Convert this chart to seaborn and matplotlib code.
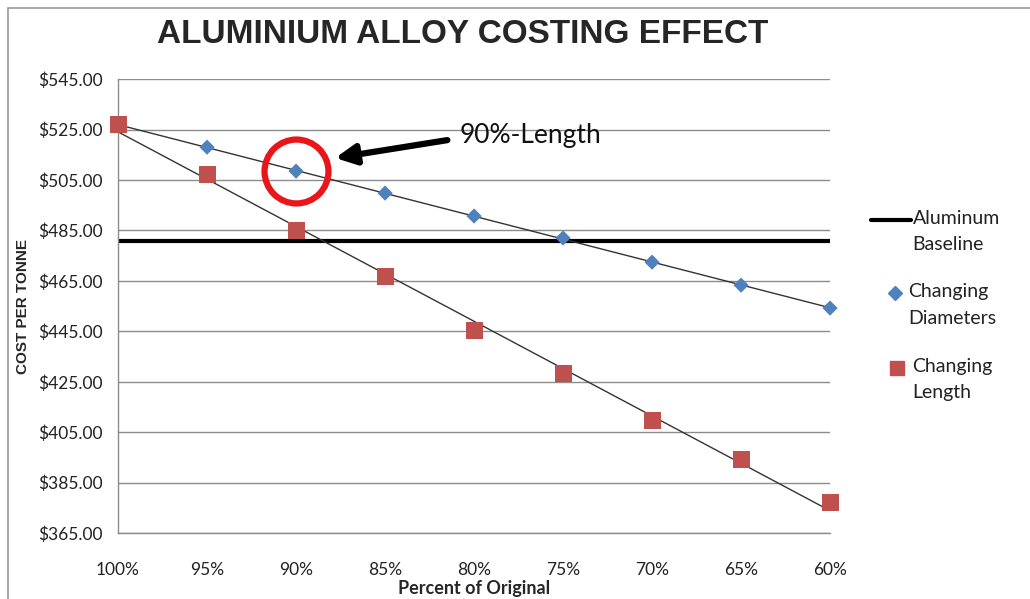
import matplotlib.pyplot as plt
import numpy as np
import pandas as pd
import seaborn as sns
from matplotlib.lines import Line2D
from matplotlib.patches import Rectangle

# values
percent = [100, 95, 90, 85, 80, 75, 70, 65, 60]
changing_diameters = [526.8, 518.0, 508.5, 499.8, 490.7, 482.0, 472.4, 463.3, 454.2]
changing_length = [526.8, 507.0, 485.1, 466.9, 445.5, 428.4, 409.8, 394.3, 377.0]
baseline = 480.8
y_ticks = [365, 385, 405, 425, 445, 465, 485, 505, 525, 545]
highlight = (90, 508.5)

BLUE = "#4f81bd"
RED = "#c0504d"
GRID = "#8c8c8c"

df = pd.DataFrame({
    "percent": percent * 2,
    "cost": changing_diameters + changing_length,
    "series": ["Diameters"] * len(percent) + ["Length"] * len(percent),
})

sns.set_style("white")
plt.rcParams["font.family"] = ["Lato", "DejaVu Sans"]

fig = plt.figure(figsize=(10.30, 5.99), dpi=100)
ax = fig.add_axes([0.1146, 0.110, 0.6913, 0.758])

for y in y_ticks:
    ax.axhline(y, color=GRID, lw=1, zorder=0)

ax.axhline(baseline, color="black", lw=3, zorder=1)

# linear trend lines
for vals in (changing_diameters, changing_length):
    sns.regplot(x=np.array(percent, dtype=float), y=np.array(vals), ax=ax, ci=None,
                scatter=False, truncate=True, color="#333333", line_kws={"lw": 1})

sns.scatterplot(data=df, x="percent", y="cost", hue="series", style="series",
                markers={"Diameters": "D", "Length": "s"},
                palette={"Diameters": BLUE, "Length": RED},
                ax=ax, zorder=5, clip_on=False, edgecolor="none", legend=False)
ax.collections[-1].set_sizes([60 if s == "Diameters" else 150 for s in df["series"]])

ax.set_xlim(100, 60)
ax.set_ylim(365, 545)
ax.set_xticks(percent)
ax.set_xticklabels([f"{p}%" for p in percent])
ax.set_yticks(y_ticks)
ax.set_yticklabels([f"${v:.2f}" for v in y_ticks])
ax.tick_params(axis="both", labelsize=12.5, labelcolor="#222222", color=GRID,
               length=5, width=1, direction="out", pad=6)
ax.tick_params(axis="x", pad=16)
for side in ("top", "right"):
    ax.spines[side].set_visible(False)
for side in ("left", "bottom"):
    ax.spines[side].set_color(GRID)
    ax.spines[side].set_linewidth(1)

ax.set_xlabel("Percent of Original", fontsize=13, fontweight="bold", labelpad=1)
ax.set_ylabel("COST PER TONNE", fontsize=11, fontweight="bold", labelpad=6,
              family=["Liberation Sans", "DejaVu Sans"])

fig.text(0.449, 0.943, "ALUMINIUM ALLOY COSTING EFFECT", ha="center", va="center",
         fontsize=24, fontweight="heavy", family=["Liberation Sans", "DejaVu Sans"])

# highlight the 90% point
ax.plot(*highlight, marker="o", ms=46, mfc="none", mec="#e8151b", mew=4.5,
        zorder=6, clip_on=False)
ax.annotate("", xy=(87.8, 513.7), xytext=(81.5, 520.8),
            arrowprops=dict(arrowstyle="-|>,head_length=1.2,head_width=0.6",
                            color="black", lw=4.5, shrinkA=0, shrinkB=0))
ax.text(80.8, 522.6, "90%-Length", fontsize=19, ha="left", va="center", color="#111111")

# legend, handle beside the first line of each label
leg_items = [
    (0.633, Line2D([0.846, 0.884], [0.633, 0.633], color="black", lw=3), "Aluminum\nBaseline", 0.886),
    (0.511, Line2D([0.869], [0.511], ls="none", marker="D", color=BLUE, ms=7), "Changing\nDiameters", 0.882),
    (0.386, Line2D([0.871], [0.386], ls="none", marker="s", color=RED, ms=10), "Changing\nLength", 0.886),
]
for y, handle, label, tx in leg_items:
    handle.set_transform(fig.transFigure)
    fig.add_artist(handle)
    fig.text(tx, y + 0.017, label, fontsize=14, ha="left", va="top",
             linespacing=1.7, color="#222222")

# outer frame of the original picture
fig.add_artist(Rectangle((0.008, -0.1), 1.2, 1.087, transform=fig.transFigure,
                         fill=False, ec="#9a9a9a", lw=1.2))

fig.savefig("out.png", dpi=100)
